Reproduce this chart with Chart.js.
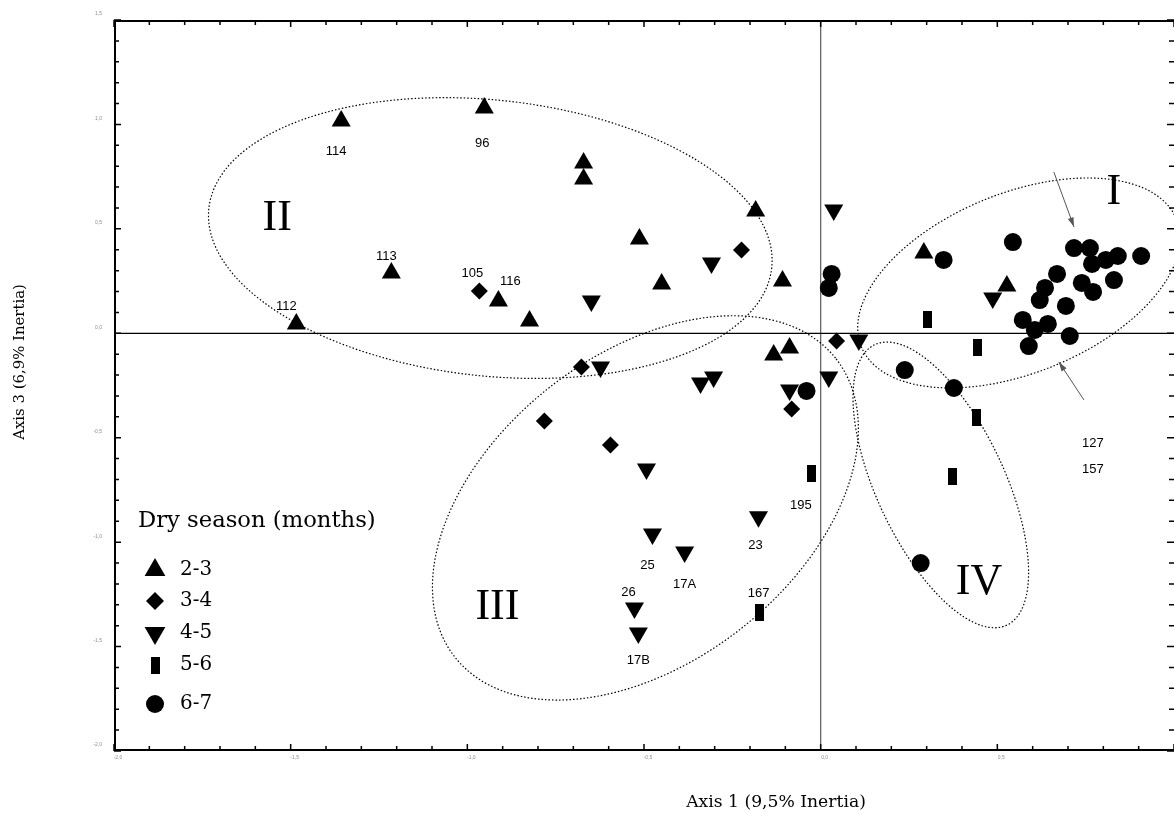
<!DOCTYPE html>
<html>
<head>
<meta charset="utf-8">
<script src="https://cdn.jsdelivr.net/npm/chart.js@4.4.0/dist/chart.umd.min.js"></script>
<style>
html, body { margin: 0; padding: 0; background: #fff; overflow: hidden; }
#wrap { position: relative; width: 1174px; height: 817px; }
#myChart { display: block; }
</style>
</head>
<body>
<div id="wrap"><canvas id="myChart"></canvas></div>
<script>
// dry season 2-3 months (triangles)
const triX = [-1.357, -0.952, -1.215, -1.484, -0.912, -0.824, -0.671, -0.671, -0.513, -0.450, -0.184, -0.108, -0.133, -0.088, 0.292, 0.527];
const triY = [1.016, 1.079, 0.289, 0.045, 0.155, 0.059, 0.815, 0.739, 0.451, 0.236, 0.585, 0.250, -0.104, -0.070, 0.384, 0.226];
const triLabels = ['114', '96', '113', '112', '116', '', '', '', '', '', '', '', '', '', '', ''];

// 3-4 months (diamonds)
const diaX = [-0.966, -0.224, -0.677, -0.782, -0.595, -0.082, 0.045];
const diaY = [0.202, 0.399, -0.161, -0.420, -0.535, -0.362, -0.037];
const diaLabels = ['105', '', '', '', '', '', ''];

// 4-5 months (inverted triangles)
const invX = [-0.649, -0.623, -0.340, -0.303, -0.309, 0.037, -0.088, 0.023, 0.108, -0.493, -0.476, -0.176, -0.385, -0.527, -0.516, 0.487];
const invY = [0.155, -0.161, -0.238, -0.209, 0.337, 0.590, -0.271, -0.209, -0.032, -0.650, -0.961, -0.879, -1.047, -1.315, -1.435, 0.169];
const invLabels = ['', '', '', '', '', '', '', '', '', '', '25', '23', '17A', '26', '17B', ''];

// 5-6 months (bars)
const barX = [0.303, 0.445, 0.442, 0.374, -0.025, -0.173];
const barY = [0.068, -0.066, -0.401, -0.688, -0.669, -1.339];
const barLabels = ['', '', '', '', '195', '167'];

// 6-7 months (circles)
const cirX = [-0.040, 0.031, 0.023, 0.238, 0.348, 0.377, 0.283, 0.544, 0.717, 0.762, 0.768, 0.807, 0.841, 0.907, 0.669, 0.830, 0.739, 0.771, 0.635, 0.620, 0.694, 0.572, 0.643, 0.606, 0.705, 0.589];
const cirY = [-0.276, 0.284, 0.217, -0.176, 0.351, -0.262, -1.100, 0.437, 0.408, 0.408, 0.332, 0.351, 0.370, 0.370, 0.284, 0.255, 0.241, 0.198, 0.217, 0.159, 0.131, 0.064, 0.045, 0.016, -0.013, -0.061];

const seriesNames = ['2-3', '3-4', '4-5', '5-6', '6-7'];
const xTicks = [-2.0, -1.5, -1.0, -0.5, 0.0, 0.5, 1.0];
const yTicks = [-2.0, -1.5, -1.0, -0.5, 0.0, 0.5, 1.0, 1.5];

// groups I-IV
const groupNames = ['I', 'II', 'III', 'IV'];
const groupX = [0.830, -1.538, -0.915, 0.448];
const groupY = [0.672, 0.552, -1.315, -1.195];

// label placement (px offsets from the point)
const labelOffsets = {
    '114': [-5, 30], '96': [-2, 35], '113': [-5, -17], '105': [-7, -18], '116': [12, -19], '112': [-10, -17],
    '195': [-11, 32], '23': [-3, 29], '25': [-5, 31], '17A': [0, 32], '26': [-6, -16], '17B': [0, 27], '167': [-1, -20]
};

// dotted group outlines: centre in data units, radii in px
const ellipses = [
    { x: 0.561, y: 0.241, rx: 170, ry: 90, angle: -22 },
    { x: -0.935, y: 0.456, rx: 283, ry: 138, angle: 6 },
    { x: -0.496, y: -0.836, rx: 242, ry: 154, angle: -38 },
    { x: 0.340, y: -0.726, rx: 155, ry: 64, angle: 64.8 }
];

// arrows pointing at group I
const arrows = [
    { x1: 0.660, y1: 0.772, x2: 0.717, y2: 0.509 },
    { x1: 0.745, y1: -0.319, x2: 0.674, y2: -0.137 }
];
const arrowText = ['127', '157'];

function pts(xs, ys) {
    return xs.map((x, i) => ({ x: x, y: ys[i] }));
}

function barImage(w, h) {
    const c = document.createElement('canvas');
    c.width = w; c.height = h;
    const g = c.getContext('2d');
    g.fillStyle = '#000';
    g.fillRect(0, 0, w, h);
    return c;
}
const barStyle = barImage(9, 17);

const SERIF = '"DejaVu Serif", "Liberation Serif", serif';
const ROMAN = '"Liberation Serif", serif';
const SANS = '"Liberation Sans", Arial, sans-serif';

function fitFont(ctx, text, width, family) {
    ctx.font = '100px ' + family;
    const w = ctx.measureText(text).width;
    return (100 * width / w).toFixed(1) + 'px ' + family;
}

const decor = {
    id: 'decor',
    beforeDatasetsDraw(chart) {
        const ctx = chart.ctx, a = chart.chartArea;
        const sx = chart.scales.x, sy = chart.scales.y;
        ctx.save();
        ctx.beginPath();
        ctx.rect(a.left, a.top, a.right - a.left, a.bottom - a.top);
        ctx.clip();

        // zero lines
        ctx.lineWidth = 1.3;
        ctx.strokeStyle = '#666';
        ctx.beginPath();
        ctx.moveTo(sx.getPixelForValue(0), a.top);
        ctx.lineTo(sx.getPixelForValue(0), a.bottom);
        ctx.stroke();
        ctx.strokeStyle = '#000';
        ctx.beginPath();
        ctx.moveTo(a.left, sy.getPixelForValue(0));
        ctx.lineTo(a.right, sy.getPixelForValue(0));
        ctx.stroke();

        // ellipses
        ctx.setLineDash([1.5, 2]);
        ctx.lineWidth = 1.2;
        ctx.strokeStyle = '#000';
        ellipses.forEach(e => {
            ctx.beginPath();
            ctx.ellipse(sx.getPixelForValue(e.x), sy.getPixelForValue(e.y), e.rx, e.ry, e.angle * Math.PI / 180, 0, 2 * Math.PI);
            ctx.stroke();
        });
        ctx.restore();

        // frame (right side falls off the picture)
        ctx.save();
        ctx.strokeStyle = '#000';
        ctx.lineWidth = 2;
        ctx.beginPath();
        ctx.moveTo(a.right, a.top + 1);
        ctx.lineTo(a.left + 1, a.top + 1);
        ctx.lineTo(a.left + 1, a.bottom - 1);
        ctx.lineTo(a.right, a.bottom - 1);
        ctx.stroke();

        // inward ticks, minor every 0.1
        ctx.lineWidth = 1.5;
        for (let i = -20; i <= 10; i++) {
            const px = sx.getPixelForValue(i / 10);
            const len = i % 5 === 0 ? 7 : 5;
            ctx.beginPath();
            ctx.moveTo(px, a.bottom); ctx.lineTo(px, a.bottom - len);
            ctx.moveTo(px, a.top); ctx.lineTo(px, a.top + len);
            ctx.stroke();
        }
        for (let i = -20; i <= 15; i++) {
            const py = sy.getPixelForValue(i / 10);
            const len = i % 5 === 0 ? 7 : 5;
            ctx.beginPath();
            ctx.moveTo(a.left, py); ctx.lineTo(a.left + len, py);
            ctx.moveTo(a.right, py); ctx.lineTo(a.right - len, py);
            ctx.stroke();
        }

        // faint tick labels
        ctx.fillStyle = '#8c8c8c';
        ctx.font = '5px ' + SANS;
        ctx.textBaseline = 'middle';
        ctx.textAlign = 'right';
        yTicks.forEach(v => {
            ctx.fillText(v.toFixed(1).replace('.', ','), a.left - 12, sy.getPixelForValue(v) - 6);
        });
        ctx.textAlign = 'center';
        xTicks.forEach(v => {
            ctx.fillText(v.toFixed(1).replace('.', ','), sx.getPixelForValue(v) + 4, a.bottom + 7);
        });
        ctx.restore();
    },
    afterDatasetsDraw(chart) {
        const ctx = chart.ctx, a = chart.chartArea;
        const sx = chart.scales.x, sy = chart.scales.y;
        ctx.save();
        ctx.fillStyle = '#000';
        ctx.textAlign = 'center';
        ctx.textBaseline = 'middle';

        // point labels
        ctx.font = '13px ' + SANS;
        chart.data.datasets.forEach(ds => {
            ds.data.forEach((p, i) => {
                const t = ds.names[i];
                if (!t) return;
                const off = labelOffsets[t] || [0, -18];
                ctx.fillText(t, sx.getPixelForValue(p.x) + off[0], sy.getPixelForValue(p.y) + off[1]);
            });
        });

        // arrows
        ctx.strokeStyle = '#555';
        ctx.fillStyle = '#555';
        ctx.lineWidth = 1;
        arrows.forEach(r => {
            const x1 = sx.getPixelForValue(r.x1), y1 = sy.getPixelForValue(r.y1);
            const x2 = sx.getPixelForValue(r.x2), y2 = sy.getPixelForValue(r.y2);
            const ang = Math.atan2(y2 - y1, x2 - x1);
            ctx.beginPath();
            ctx.moveTo(x1, y1); ctx.lineTo(x2, y2);
            ctx.stroke();
            ctx.beginPath();
            ctx.moveTo(x2, y2);
            ctx.lineTo(x2 - 10 * Math.cos(ang - 0.3), y2 - 10 * Math.sin(ang - 0.3));
            ctx.lineTo(x2 - 10 * Math.cos(ang + 0.3), y2 - 10 * Math.sin(ang + 0.3));
            ctx.closePath();
            ctx.fill();
        });
        ctx.fillStyle = '#000';
        const ax = sx.getPixelForValue(arrows[1].x1) + 9;
        const ay = sy.getPixelForValue(arrows[1].y1);
        ctx.fillText(arrowText[0], ax, ay + 44);
        ctx.fillText(arrowText[1], ax, ay + 70);

        // group numerals
        ctx.font = '44px ' + ROMAN;
        groupNames.forEach((g, i) => {
            ctx.fillText(g, sx.getPixelForValue(groupX[i]), sy.getPixelForValue(groupY[i]));
        });

        // legend
        ctx.textAlign = 'left';
        ctx.font = fitFont(ctx, 'Dry season (months)', 238, SERIF);
        ctx.fillText('Dry season (months)', 138, 521);
        const marks = [
            { pointStyle: 'triangle', radius: 12, rotation: 0 },
            { pointStyle: 'rectRot', radius: 9, rotation: 0 },
            { pointStyle: 'triangle', radius: 12, rotation: 180 },
            { pointStyle: barStyle, radius: 9, rotation: 0 },
            { pointStyle: 'circle', radius: 9, rotation: 0 }
        ];
        const ly = [570, 601, 633, 665, 704];
        ctx.font = fitFont(ctx, '2-3', 32, SERIF);
        seriesNames.forEach((n, i) => {
            ctx.fillStyle = '#000';
            Chart.helpers.drawPoint(ctx, Object.assign({ borderWidth: 0 }, marks[i]), 155, ly[i]);
            ctx.fillText(n, 180, ly[i]);
        });

        // axis titles
        ctx.textAlign = 'center';
        ctx.font = fitFont(ctx, 'Axis 1 (9,5% Inertia)', 180, SERIF);
        ctx.fillText('Axis 1 (9,5% Inertia)', 776, 803);
        ctx.save();
        ctx.translate(20, 362);
        ctx.rotate(-Math.PI / 2);
        ctx.font = fitFont(ctx, 'Axis 3 (6,9% Inertia)', 156, SERIF);
        ctx.fillText('Axis 3 (6,9% Inertia)', 0, 0);
        ctx.restore();
        ctx.restore();
    }
};

const ctx = document.getElementById('myChart');
const myChart = new Chart(ctx, {
    type: 'scatter',
    data: {
        datasets: [
            { label: seriesNames[0], data: pts(triX, triY), names: triLabels, pointStyle: 'triangle', pointRadius: 11 },
            { label: seriesNames[1], data: pts(diaX, diaY), names: diaLabels, pointStyle: 'rectRot', pointRadius: 8.5 },
            { label: seriesNames[2], data: pts(invX, invY), names: invLabels, pointStyle: 'triangle', pointRotation: 180, pointRadius: 11 },
            { label: seriesNames[3], data: pts(barX, barY), names: barLabels, pointStyle: barStyle, pointRadius: 9 },
            { label: seriesNames[4], data: pts(cirX, cirY), names: [], pointStyle: 'circle', pointRadius: 9 }
        ].map(d => Object.assign(d, { backgroundColor: '#000', borderColor: '#000', borderWidth: 0 }))
    },
    options: {
        responsive: true,
        maintainAspectRatio: false,
        animation: false,
        events: [],
        layout: { autoPadding: false, padding: { top: 20, right: 0, left: 0, bottom: 0 } },
        plugins: {
            legend: { display: false },
            tooltip: { enabled: false }
        },
        scales: {
            x: {
                type: 'linear', min: -2.0, max: 1.0,
                grid: { display: false }, border: { display: false }, ticks: { display: false },
                afterFit: s => { s.height = 66; }
            },
            y: {
                type: 'linear', min: -2.0, max: 1.5,
                grid: { display: false }, border: { display: false }, ticks: { display: false },
                afterFit: s => { s.width = 114; }
            }
        }
    },
    plugins: [decor]
});
</script>
</body>
</html>
